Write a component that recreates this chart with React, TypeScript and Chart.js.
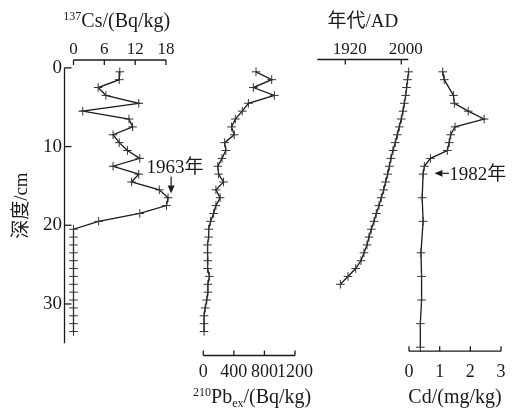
import { useEffect, useRef } from 'react';
import { Chart, registerables } from 'chart.js';

Chart.register(...registerables);

const INK = '#1a1a1a';
const SERIF = "'Liberation Serif', 'Times New Roman', 'Noto Sans CJK SC', serif";

// ---- data ----
const csDepth = [0.5, 1.5, 2.5, 3.5, 4.5, 5.5, 6.5, 7.5, 8.5, 9.5, 10.5, 11.5, 12.5, 13.5, 14.5, 15.5, 16.5, 17.5, 18.5, 19.5, 20.5, 21.5, 22.5, 23.5, 24.5, 25.5, 26.5, 27.5, 28.5, 29.5, 30.5, 31.5, 32.5, 33.5];
const csValues = [9.0, 8.9, 4.8, 6.3, 12.7, 1.8, 10.8, 11.5, 7.7, 8.9, 10.5, 12.9, 7.7, 12.7, 11.3, 16.7, 18.4, 18.1, 12.9, 4.9, 0, 0, 0, 0, 0, 0, 0, 0, 0, 0, 0, 0, 0, 0];

const pbDepth = [0.5, 1.5, 2.5, 3.5, 4.5, 5.5, 6.5, 7.5, 8.5, 9.5, 10.5, 11.5, 12.5, 13.5, 14.5, 15.5, 16.5, 17.5, 18.5, 19.5, 20.5, 21.5, 22.5, 23.5, 24.5, 25.5, 26.5, 27.5, 28.5, 29.5, 30.5, 31.5, 32.5, 33.5];
const pbValues = [690, 895, 655, 930, 590, 510, 420, 370, 405, 280, 295, 245, 190, 200, 265, 165, 220, 165, 135, 95, 70, 70, 55, 55, 60, 55, 80, 60, 60, 45, 25, 10, 10, 10];

const ageDepth = [0.5, 1.5, 2.5, 3.5, 4.5, 5.5, 6.5, 7.5, 8.5, 9.5, 10.5, 11.5, 12.5, 13.5, 14.5, 15.5, 16.5, 17.5, 18.5, 19.5, 20.5, 21.5, 22.5, 23.5, 24.5, 25.5, 26.5, 27.5];
const ageValues = [2010.5, 2009, 2007.6, 2006.2, 2004.3, 2002.4, 2000, 1997.1, 1994.3, 1991.4, 1988.1, 1985.2, 1982.9, 1980.5, 1977.6, 1974.8, 1971.4, 1968.1, 1964.3, 1961, 1957.1, 1953.8, 1951, 1946.7, 1942.4, 1934.8, 1923.8, 1912.9];

const cdDepth = [0.5, 1.5, 3.5, 4.5, 5.5, 6.5, 7.5, 8.5, 9.5, 10.5, 11.5, 12.5, 13.5, 16.5, 19.5, 23.5, 26.5, 29.5, 32.5, 35.5];
const cdValues = [1.10, 1.15, 1.45, 1.48, 1.93, 2.45, 1.50, 1.36, 1.31, 1.25, 0.70, 0.50, 0.46, 0.43, 0.46, 0.39, 0.41, 0.41, 0.37, 0.37];

const depthTicks = [0, 10, 20, 30];
const csTicks = [0, 6, 12, 18];
const pbTicks = [0, 400, 800, 1200];
const ageTicks = [1920, 2000];
const cdTicks = [0, 1, 2, 3];

const toPoints = (xs: number[], ys: number[]) => xs.map((v, i) => ({ x: v, y: ys[i] }));

type Part = { t: string; size: number; dy: number };

function drawRich(ctx: CanvasRenderingContext2D, parts: Part[], cx: number, baseline: number) {
  let total = 0;
  const widths = parts.map((p) => {
    ctx.font = `${p.size}px ${SERIF}`;
    const w = ctx.measureText(p.t).width;
    total += w;
    return w;
  });
  let x = cx - total / 2;
  ctx.textAlign = 'left';
  ctx.textBaseline = 'alphabetic';
  parts.forEach((p, i) => {
    ctx.font = `${p.size}px ${SERIF}`;
    ctx.fillText(p.t, x, baseline + p.dy);
    x += widths[i];
  });
}

function seg(ctx: CanvasRenderingContext2D, x1: number, y1: number, x2: number, y2: number) {
  ctx.beginPath();
  ctx.moveTo(x1, y1);
  ctx.lineTo(x2, y2);
  ctx.stroke();
}

function arrow(ctx: CanvasRenderingContext2D, x1: number, y1: number, x2: number, y2: number, len: number, half: number) {
  const a = Math.atan2(y2 - y1, x2 - x1);
  const bx = x2 - Math.cos(a) * len;
  const by = y2 - Math.sin(a) * len;
  seg(ctx, x1, y1, bx, by);
  ctx.beginPath();
  ctx.moveTo(x2, y2);
  ctx.lineTo(bx + Math.sin(a) * half, by - Math.cos(a) * half);
  ctx.lineTo(bx - Math.sin(a) * half, by + Math.cos(a) * half);
  ctx.closePath();
  ctx.fill();
}

const panelPlugin = {
  id: 'panelAxes',
  afterDraw(chart: any) {
    const ctx: CanvasRenderingContext2D = chart.ctx;
    const y = chart.scales.y;
    const area = chart.chartArea;
    ctx.save();
    ctx.strokeStyle = INK;
    ctx.fillStyle = INK;
    ctx.lineWidth = 1.3;

    // depth spine with inward ticks
    const sx = area.left + 0.5;
    seg(ctx, sx, y.getPixelForValue(0), sx, y.getPixelForValue(35));
    depthTicks.forEach((t) => {
      const py = y.getPixelForValue(t);
      seg(ctx, sx, py, sx + 7, py);
    });

    const axes = [
      { id: 'cs', ticks: csTicks, side: 'top', ay: area.top, dx: 0, size: 17 },
      { id: 'age', ticks: ageTicks, side: 'top', ay: area.top - 0.5, dx: 4.5, size: 17 },
      { id: 'pb', ticks: pbTicks, side: 'bottom', ay: area.bottom + 4.3, dx: 0, size: 18 },
      { id: 'cd', ticks: cdTicks, side: 'bottom', ay: area.bottom, dx: 0, size: 18 },
    ];
    axes.forEach((a) => {
      const s = chart.scales[a.id];
      seg(ctx, s.left, a.ay, s.right, a.ay);
      ctx.font = `${a.size}px ${SERIF}`;
      ctx.textAlign = 'center';
      ctx.textBaseline = 'alphabetic';
      a.ticks.forEach((t) => {
        const px = s.getPixelForValue(t);
        if (a.side === 'top') {
          seg(ctx, px, a.ay, px, a.ay + 5);
          ctx.fillText(String(t), px + a.dx, 54);
        } else {
          seg(ctx, px, a.ay, px, a.ay - 5);
          ctx.fillText(String(t), px + a.dx, 377);
        }
      });
    });

    // axis titles
    const cs = chart.scales.cs;
    const age = chart.scales.age;
    const pb = chart.scales.pb;
    const cd = chart.scales.cd;
    drawRich(ctx, [
      { t: '137', size: 12, dy: -7 },
      { t: 'Cs/(Bq/kg)', size: 20, dy: 0 },
    ], (cs.left + cs.right) / 2 - 3, 27);
    drawRich(ctx, [{ t: '年代/AD', size: 19, dy: 0 }], (age.left + age.right) / 2, 27);
    drawRich(ctx, [
      { t: '210', size: 12, dy: -7 },
      { t: 'Pb', size: 20, dy: 0 },
      { t: 'ex', size: 12, dy: 4 },
      { t: '/(Bq/kg)', size: 20, dy: 0 },
    ], (pb.left + pb.right) / 2 + 3, 403);
    drawRich(ctx, [{ t: 'Cd/(mg/kg)', size: 20, dy: 0 }], (cd.left + cd.right) / 2, 403);

    // annotations
    ctx.lineWidth = 1.2;
    arrow(ctx, cs.getPixelForValue(19.0), y.getPixelForValue(13.85), cs.getPixelForValue(19.0), y.getPixelForValue(15.95), 8, 3.4);
    ctx.font = `19px ${SERIF}`;
    ctx.textAlign = 'left';
    ctx.textBaseline = 'alphabetic';
    ctx.fillText('1963年', cs.getPixelForValue(14.2), y.getPixelForValue(13.3));

    arrow(ctx, cd.getPixelForValue(1.3), y.getPixelForValue(13.4), cd.getPixelForValue(0.83), y.getPixelForValue(13.4), 8, 3.4);
    ctx.fillText('1982年', cd.getPixelForValue(1.31), y.getPixelForValue(14.25));
    ctx.restore();
  },
};

const lineStyle = {
  showLine: true,
  borderColor: INK,
  borderWidth: 1.3,
  pointStyle: 'cross',
  pointRadius: 4.3,
  pointBorderWidth: 1,
  pointBorderColor: '#333',
  pointBackgroundColor: '#333',
  tension: 0,
  clip: false as any,
  yAxisID: 'y',
};

const spacer = (position: string, stack: string, stackWeight: number, weight: number) => ({
  type: 'linear',
  position,
  stack,
  stackWeight,
  weight,
  display: false,
  min: 0,
  max: 1,
});

export default function App() {
  const ref = useRef<HTMLCanvasElement>(null);
  useEffect(() => {
    if (!ref.current) return;
    const chart = new Chart(ref.current, {
      type: 'scatter',
      data: {
        datasets: [
          { ...lineStyle, label: 'Cs', xAxisID: 'cs', data: toPoints(csValues, csDepth) },
          { ...lineStyle, label: 'Pb', xAxisID: 'pb', data: toPoints(pbValues, pbDepth) },
          { ...lineStyle, label: 'Age', xAxisID: 'age', data: toPoints(ageValues, ageDepth) },
          { ...lineStyle, label: 'Cd', xAxisID: 'cd', data: toPoints(cdValues, cdDepth) },
        ] as any,
      },
      options: {
        animation: false,
        responsive: false,
        devicePixelRatio: 1,
        layout: { padding: { top: 60, bottom: 60.8, left: 0, right: 0 }, autoPadding: false },
        plugins: { legend: { display: false }, tooltip: { enabled: false } },
        events: [],
        scales: {
          y: {
            type: 'linear',
            position: 'left',
            reverse: true,
            min: -1,
            max: 36,
            weight: 0,
            afterFit: (s: any) => { s.width = 64; },
            afterBuildTicks: (s: any) => { s.ticks = depthTicks.map((v) => ({ value: v })); },
            grid: { display: false, drawTicks: false },
            border: { display: false },
            ticks: { padding: 2, color: INK, font: { family: SERIF, size: 19 } },
            title: { display: true, text: '深度/cm', color: INK, font: { family: SERIF, size: 19 }, padding: { top: 11, bottom: 0 } },
          },
          spA: spacer('top', 'top', 9.5, 5),
          cs: { type: 'linear', position: 'top', stack: 'top', stackWeight: 92.5, weight: 4, display: false, min: 0, max: 18 },
          spB: spacer('top', 'top', 151.3, 3),
          age: { type: 'linear', position: 'top', stack: 'top', stackWeight: 91, weight: 2, display: false, min: 1880, max: 2010 },
          spC: spacer('top', 'top', 105.7, 1),
          spD: spacer('bottom', 'bot', 139.3, 1),
          pb: { type: 'linear', position: 'bottom', stack: 'bot', stackWeight: 91.7, weight: 2, display: false, min: 0, max: 1200 },
          spE: spacer('bottom', 'bot', 114, 3),
          cd: { type: 'linear', position: 'bottom', stack: 'bot', stackWeight: 92, weight: 4, display: false, min: 0, max: 3 },
          spF: spacer('bottom', 'bot', 13, 5),
        } as any,
      },
      plugins: [panelPlugin],
    });
    return () => chart.destroy();
  }, []);
  return (
    <div style={{ position: 'fixed', left: 0, top: 0, width: 514, height: 412, background: '#fff' }}>
      <canvas ref={ref} width={514} height={412} style={{ display: 'block', width: 514, height: 412 }} />
    </div>
  );
}
